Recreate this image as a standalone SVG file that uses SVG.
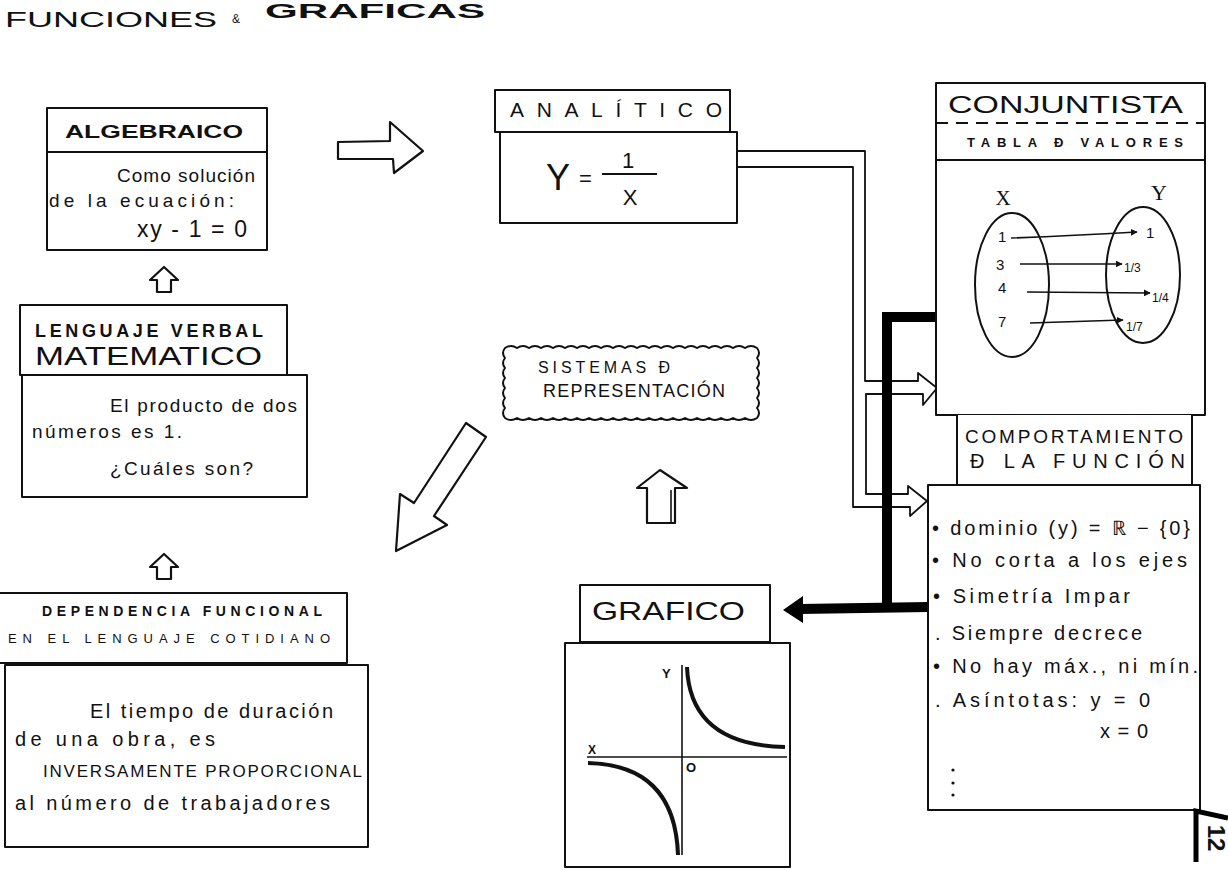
<svg xmlns="http://www.w3.org/2000/svg" width="1228" height="870" viewBox="0 0 1228 870">
<style>
.bx{fill:#fff;stroke:#111;stroke-width:2;stroke-linejoin:round}
.ln{fill:none;stroke:#111;stroke-width:2}
.t{font-family:"Liberation Sans",Arial,sans-serif;fill:#111}
.cap{font-family:"Liberation Sans",Arial,sans-serif;fill:#111;font-weight:bold}
.srf{font-family:"Liberation Serif","Times New Roman",serif;fill:#111}
.blk{fill:none;stroke:#000;stroke-width:10}
.pipe{fill:none;stroke:#111;stroke-width:1.8;stroke-linejoin:round}
.harr{fill:#fff;stroke:#111;stroke-width:2.2;stroke-linejoin:round}
.thin{fill:none;stroke:#111;stroke-width:1.6}
</style>
<defs>
<marker id="ah" viewBox="0 0 10 10" refX="9" refY="5" markerWidth="7" markerHeight="7" orient="auto" markerUnits="userSpaceOnUse">
<path d="M0,0 L10,5 L0,10 z" fill="#111"/>
</marker>
</defs>
<rect width="1228" height="870" fill="#fff"/>

<g id="title">
<text class="t" x="5" y="27" font-size="22" textLength="212" lengthAdjust="spacingAndGlyphs">FUNCIONES</text>
<text class="t" x="232" y="23" font-size="12">&amp;</text>
<text class="cap" x="265" y="18" font-size="20" textLength="220" lengthAdjust="spacingAndGlyphs">GRAFICAS</text>
</g>

<g id="connectors">
<polygon class="harr" points="338,142 390,141 390,122 423,151 394,173 393,159 338,159"/>
<polygon class="harr" points="164,267 178,280 171,280 171,292 157,292 157,280 150,280"/>
<polygon class="harr" points="164,554 178,567 171,567 171,579 157,579 157,567 150,567"/>
<polygon class="harr" points="466,423 486,437 434,516 447,525 396,551 400,494 414,503"/>
<polygon class="harr" points="660,470 687,488 675,488 675,523 647,523 647,488 637,488"/>
<line class="thin" x1="671" y1="490" x2="671" y2="523"/>
<path class="pipe" d="M737,151 H865 V381 H918 V373 L937,388 L923,405 V394 H866 V494 H908 V486 L927,501 L910,516 V507 H853 V167 H737"/>
<path class="blk" d="M937,317 H887 V607"/>
<path class="blk" d="M928,607 L800,609"/>
<polygon points="783,610 803,596 803,623" fill="#000"/>
</g>

<g id="algebraico">
<rect class="bx" x="47" y="108" width="220" height="142"/>
<line class="ln" x1="47" y1="152" x2="267" y2="152"/>
<text class="cap" x="65" y="138" font-size="19" textLength="178" lengthAdjust="spacingAndGlyphs">ALGEBRAICO</text>
<text class="t" x="117" y="182" font-size="19" textLength="138" lengthAdjust="spacing">Como solución</text>
<text class="t" x="49" y="207" font-size="19" textLength="185" lengthAdjust="spacing">de la ecuación:</text>
<text class="t" x="137" y="237" font-size="23" textLength="110" lengthAdjust="spacing">xy - 1 = 0</text>
</g>

<g id="lenguaje-verbal">
<rect class="bx" x="20" y="305" width="267" height="70"/>
<rect class="bx" x="22" y="375" width="285" height="122"/>
<text class="cap" x="35" y="337" font-size="18" textLength="228" lengthAdjust="spacing">LENGUAJE VERBAL</text>
<text class="t" x="35" y="365" font-size="25" textLength="227" lengthAdjust="spacingAndGlyphs">MATEMATICO</text>
<text class="t" x="110" y="412" font-size="19" textLength="187" lengthAdjust="spacing">El producto de dos</text>
<text class="t" x="32" y="438" font-size="19" textLength="150" lengthAdjust="spacing">números es 1.</text>
<text class="t" x="110" y="475" font-size="19" textLength="143" lengthAdjust="spacing">¿Cuáles son?</text>
</g>

<g id="dependencia">
<rect class="bx" x="-2" y="593" width="349" height="70"/>
<rect class="bx" x="5" y="665" width="363" height="182"/>
<text class="cap" x="42" y="616" font-size="14" textLength="280" lengthAdjust="spacing">DEPENDENCIA FUNCIONAL</text>
<text class="t" x="8" y="643" font-size="13" textLength="322" lengthAdjust="spacing">EN EL LENGUAJE COTIDIANO</text>
<text class="t" x="90" y="718" font-size="20" textLength="243" lengthAdjust="spacing">El tiempo de duración</text>
<text class="t" x="15" y="746" font-size="20" textLength="200" lengthAdjust="spacing">de una obra, es</text>
<text class="t" x="43" y="777" font-size="17" textLength="319" lengthAdjust="spacing">INVERSAMENTE PROPORCIONAL</text>
<text class="t" x="15" y="810" font-size="20" textLength="315" lengthAdjust="spacing">al número de trabajadores</text>
</g>

<g id="analitico">
<rect class="bx" x="495" y="90" width="235" height="42"/>
<rect class="bx" x="500" y="132" width="237" height="91"/>
<text class="t" x="510" y="117" font-size="21" textLength="212" lengthAdjust="spacing">ANALÍTICO</text>
<text class="t" x="546" y="190" font-size="36">Y</text>
<text class="t" x="579" y="186" font-size="22">=</text>
<line class="ln" x1="602" y1="174" x2="657" y2="174"/>
<text class="t" x="628" y="168" font-size="22" text-anchor="middle">1</text>
<text class="t" x="630" y="205" font-size="22" text-anchor="middle">X</text>
</g>

<g id="conjuntista">
<rect class="bx" x="936" y="83" width="269" height="332"/>
<line class="ln" x1="936" y1="123" x2="1205" y2="123" stroke-dasharray="12 8"/>
<line class="ln" x1="936" y1="160" x2="1205" y2="160"/>
<text class="t" x="948" y="113" font-size="23" textLength="235" lengthAdjust="spacingAndGlyphs">CONJUNTISTA</text>
<text class="cap" x="967" y="147" font-size="13" textLength="216" lengthAdjust="spacing">TABLA Ð VALORES</text>
<text class="srf" x="1003" y="205" font-size="21" text-anchor="middle">X</text>
<text class="srf" x="1159" y="200" font-size="22" text-anchor="middle">Y</text>
<ellipse class="ln" cx="1012" cy="285" rx="37" ry="72"/>
<ellipse class="ln" cx="1143" cy="275" rx="37" ry="68"/>
<text class="t" x="998" y="242" font-size="15">1</text>
<text class="t" x="996" y="270" font-size="15">3</text>
<text class="t" x="998" y="293" font-size="15">4</text>
<text class="t" x="998" y="327" font-size="15">7</text>
<g class="thin" marker-end="url(#ah)">
<path d="M1011,238 Q1070,236 1137,232"/>
<path d="M1020,264 L1122,264"/>
<path d="M1027,292 L1150,293"/>
<path d="M1030,323 L1123,320"/>
</g>
<text class="t" x="1146" y="238" font-size="15">1</text>
<text class="t" x="1124" y="272" font-size="12">1/3</text>
<text class="t" x="1152" y="302" font-size="12">1/4</text>
<text class="t" x="1126" y="331" font-size="12">1/7</text>
</g>

<g id="comportamiento">
<path class="bx" d="M957,415 V485 H1192 V415"/>
<rect class="bx" x="928" y="485" width="272" height="325"/>
<text class="t" x="965" y="443" font-size="19" textLength="218" lengthAdjust="spacing">COMPORTAMIENTO</text>
<text class="t" x="970" y="468" font-size="20" textLength="215" lengthAdjust="spacing">Ð LA  FUNCIÓN</text>
<text class="t" x="932" y="535" font-size="20" textLength="258" lengthAdjust="spacing">• dominio (y) = ℝ − {0}</text>
<text class="t" x="932" y="567" font-size="20" textLength="255" lengthAdjust="spacing">• No corta a los ejes</text>
<text class="t" x="933" y="603" font-size="20" textLength="197" lengthAdjust="spacing">• Simetría Impar</text>
<text class="t" x="935" y="640" font-size="20" textLength="207" lengthAdjust="spacing">. Siempre decrece</text>
<text class="t" x="933" y="673" font-size="20" textLength="265" lengthAdjust="spacing">• No hay máx., ni mín.</text>
<text class="t" x="935" y="707" font-size="20" textLength="215" lengthAdjust="spacing">. Asíntotas: y = 0</text>
<text class="t" x="1100" y="738" font-size="20" textLength="48" lengthAdjust="spacing">x = 0</text>
<circle cx="953" cy="770" r="1.6" fill="#111"/>
<circle cx="953" cy="783" r="1.6" fill="#111"/>
<circle cx="953" cy="795" r="1.6" fill="#111"/>
</g>

<g id="grafico">
<rect class="bx" x="580" y="585" width="190" height="57"/>
<rect class="bx" x="565" y="643" width="225" height="224"/>
<text class="t" x="592" y="620" font-size="25" textLength="153" lengthAdjust="spacingAndGlyphs">GRAFICO</text>
<line class="thin" x1="682" y1="665" x2="682" y2="855"/>
<line class="thin" x1="587" y1="757" x2="787" y2="757"/>
<text class="cap" x="662" y="678" font-size="13">Y</text>
<text class="cap" x="588" y="754" font-size="12">X</text>
<text class="cap" x="686" y="772" font-size="13">O</text>
<path d="M687,667 Q690,745 785,747" fill="none" stroke="#111" stroke-width="4"/>
<path d="M588,763 Q675,765 678,855" fill="none" stroke="#111" stroke-width="4"/>
</g>

<g id="sistemas">
<path class="bx" d="M505,348 q6,-4 12,0 q6,-4 12,0 q6,-4 12,0 q6,-4 12,0 q6,-4 12,0 q6,-4 12,0 q6,-4 12,0 q6,-4 12,0 q6,-4 12,0 q6,-4 12,0 q6,-4 12,0 q6,-4 12,0 q6,-4 12,0 q6,-4 12,0 q6,-4 12,0 q6,-4 12,0 q6,-4 12,0 q6,-4 12,0 q6,-4 12,0 q6,-4 12,0 q6,-4 12,0 q4,5 0,10 q4,5 0,10 q4,5 0,10 q4,5 0,10 q4,5 0,10 q4,5 0,10 q4,5 0,10 q-6,4 -12,0 q-6,4 -12,0 q-6,4 -12,0 q-6,4 -12,0 q-6,4 -12,0 q-6,4 -12,0 q-6,4 -12,0 q-6,4 -12,0 q-6,4 -12,0 q-6,4 -12,0 q-6,4 -12,0 q-6,4 -12,0 q-6,4 -12,0 q-6,4 -12,0 q-6,4 -12,0 q-6,4 -12,0 q-6,4 -12,0 q-6,4 -12,0 q-6,4 -12,0 q-6,4 -12,0 q-6,4 -12,0 q-4,-5 0,-10 q-4,-5 0,-10 q-4,-5 0,-10 q-4,-5 0,-10 q-4,-5 0,-10 q-4,-5 0,-10 q-4,-5 0,-10 z"/>
<text class="t" x="538" y="373" font-size="16" textLength="132" lengthAdjust="spacing">SISTEMAS Ð</text>
<text class="t" x="543" y="397" font-size="18" textLength="182" lengthAdjust="spacing">REPRESENTACIÓN</text>
</g>

<g id="page-number">
<path d="M1228,818 L1196,811 L1196,862" fill="none" stroke="#000" stroke-width="5"/>
<text class="cap" x="1208" y="838" font-size="24" transform="rotate(90 1208 838)" text-anchor="middle">12</text>
</g>
</svg>
